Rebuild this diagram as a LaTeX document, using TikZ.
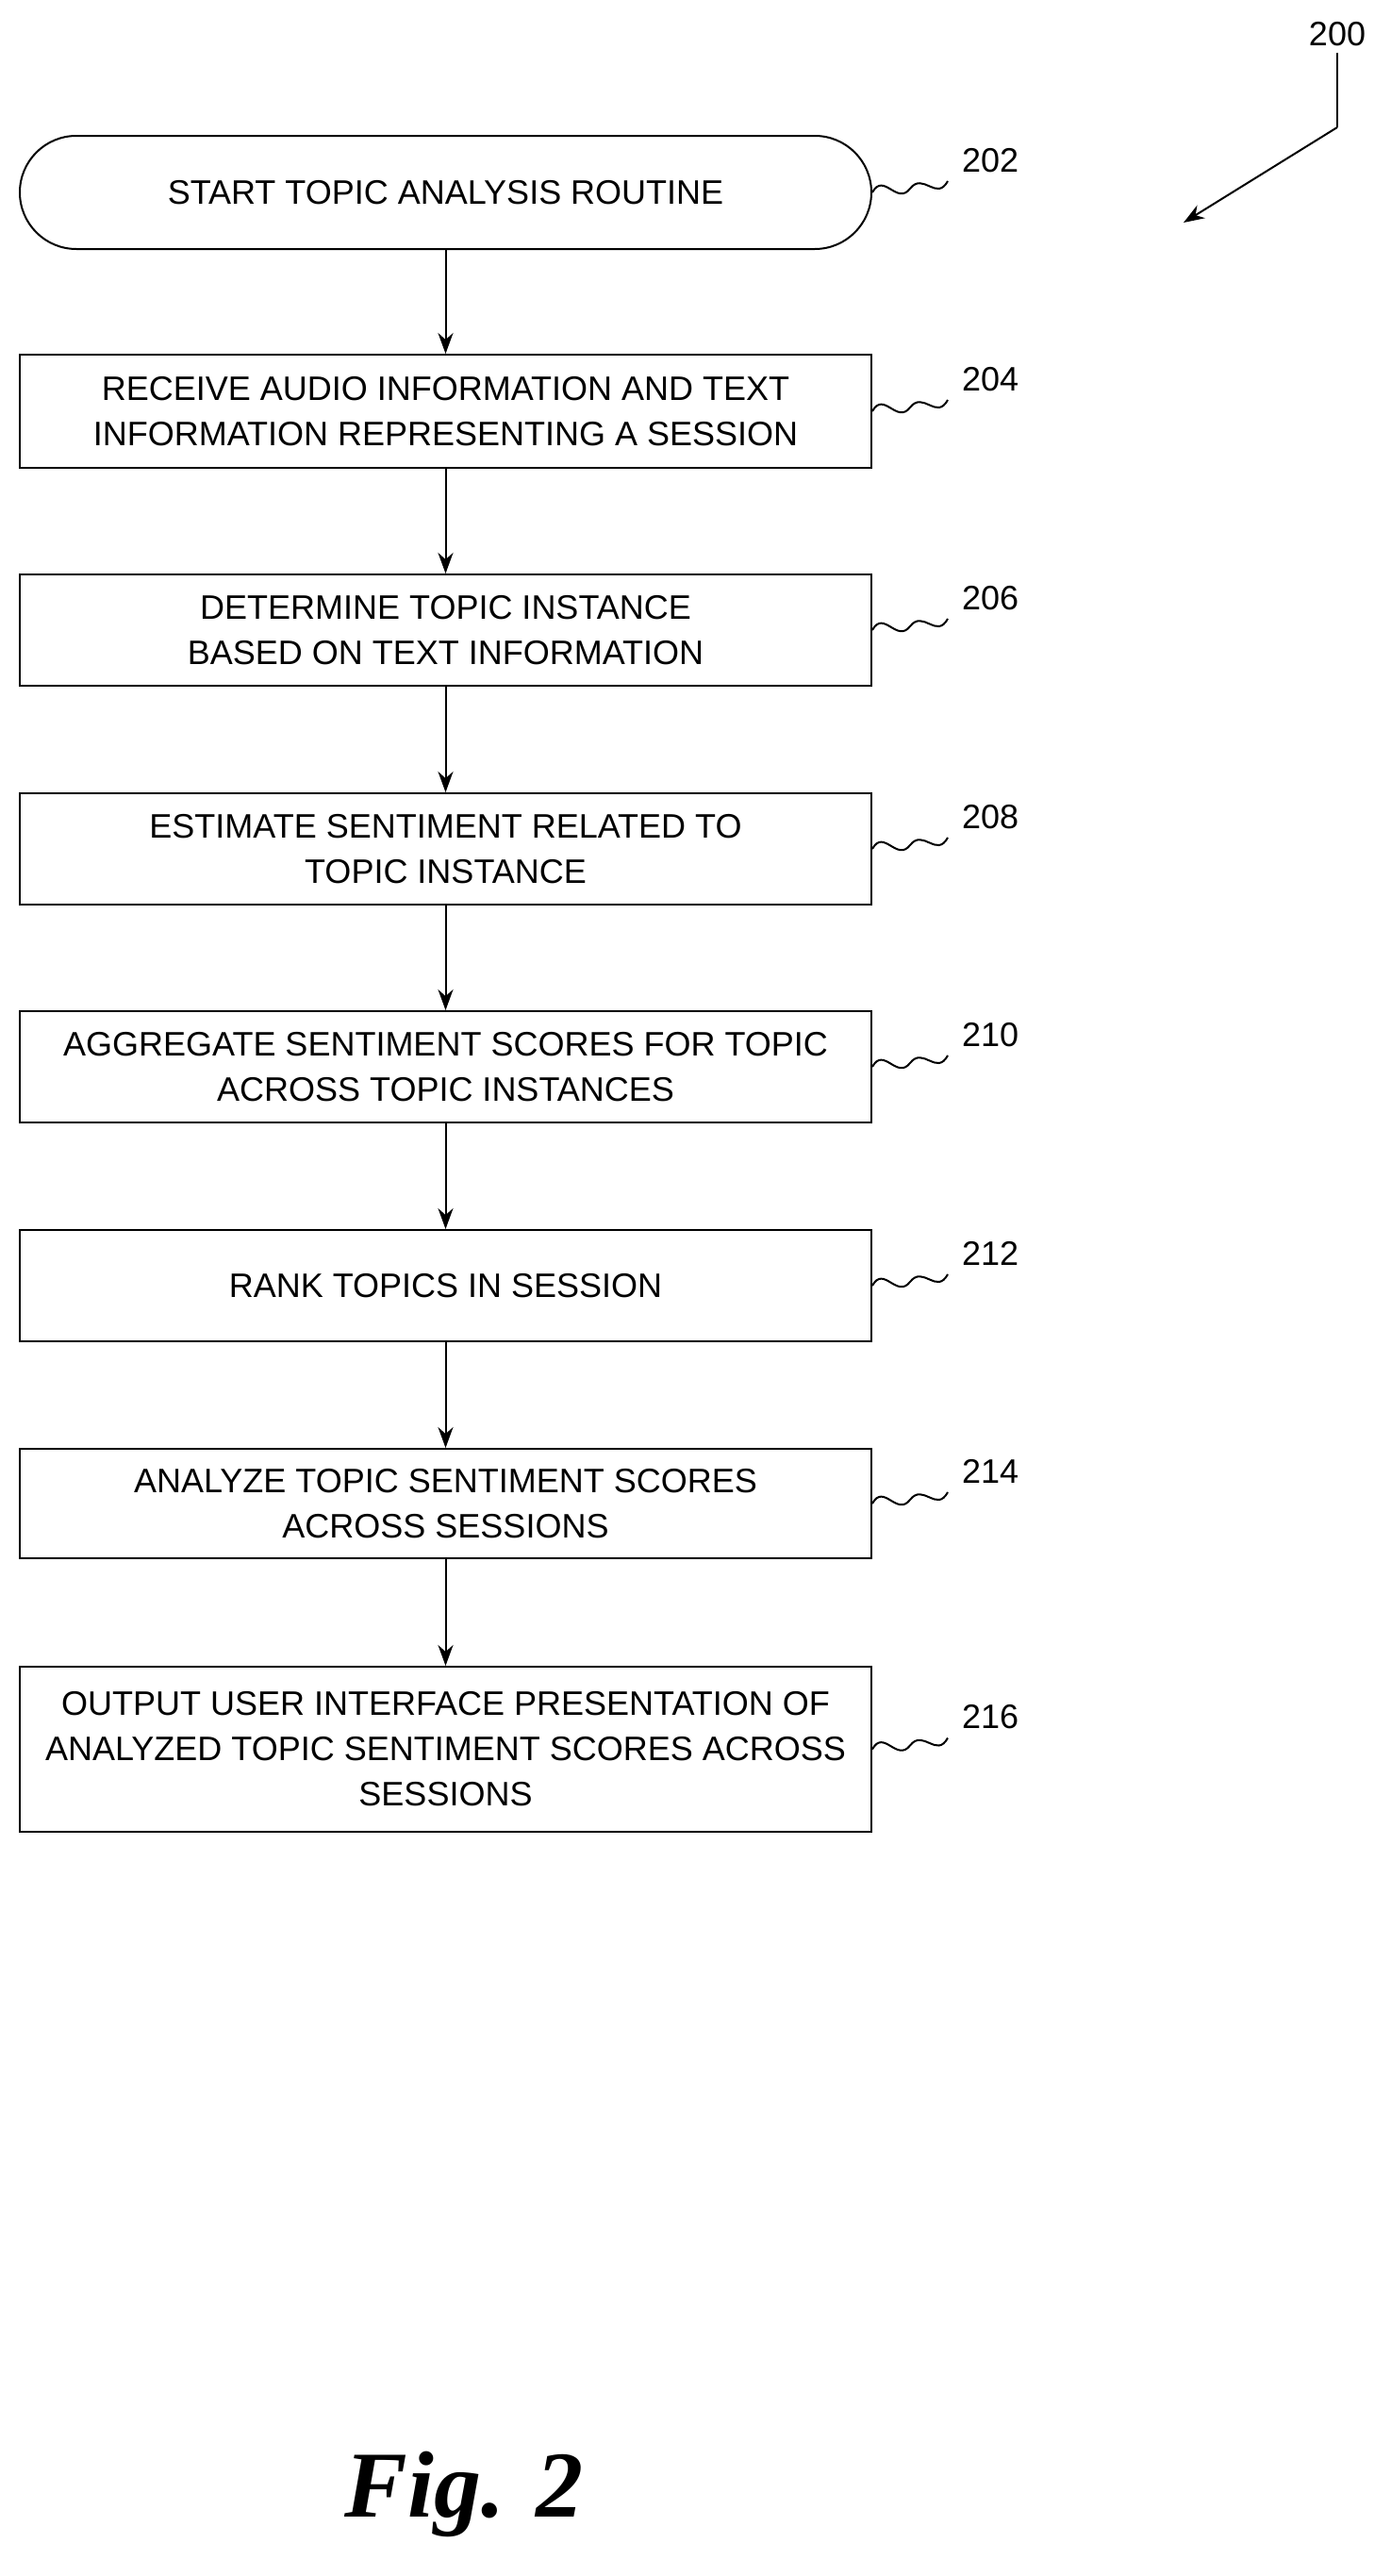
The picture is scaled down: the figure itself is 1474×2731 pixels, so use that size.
\documentclass[tikz,border=0pt]{standalone}
\usepackage{fontspec}
\setmainfont{Liberation Sans}
\newfontfamily\figfont{Liberation Serif}
\usetikzlibrary{arrows.meta}
\begin{document}
\begin{tikzpicture}[x=0.5pt,y=-0.5pt,
  box/.style={draw,line width=1pt,minimum width=451.5pt,align=center,font=\fontsize{18}{24}\selectfont,inner sep=0pt},
  arr/.style={line width=1pt,-{Stealth[length=11pt,width=8pt]}},
  lbl/.style={font=\fontsize{18}{22}\selectfont,anchor=west},
  sq/.style={line width=1pt}]
\useasboundingbox (0,0) rectangle (1474,2731);
\node[box,rounded corners=30pt,minimum height=60pt] (s202) at (472.5,204) {START TOPIC ANALYSIS ROUTINE};
\node[box,minimum height=60pt] (s204) at (472.5,436) {RECEIVE AUDIO INFORMATION AND TEXT\\INFORMATION REPRESENTING A SESSION};
\node[box,minimum height=59pt] (s206) at (472.5,668) {DETERMINE TOPIC INSTANCE\\BASED ON TEXT INFORMATION};
\node[box,minimum height=59pt] (s208) at (472.5,900) {ESTIMATE SENTIMENT RELATED TO\\TOPIC INSTANCE};
\node[box,minimum height=59pt] (s210) at (472.5,1131) {AGGREGATE SENTIMENT SCORES FOR TOPIC\\ACROSS TOPIC INSTANCES};
\node[box,minimum height=59pt] (s212) at (472.5,1363) {RANK TOPICS IN SESSION};
\node[box,minimum height=58pt] (s214) at (472.5,1594) {ANALYZE TOPIC SENTIMENT SCORES\\ACROSS SESSIONS};
\node[box,minimum height=87.5pt] (s216) at (472.5,1854.5) {OUTPUT USER INTERFACE PRESENTATION OF\\ANALYZED TOPIC SENTIMENT SCORES ACROSS\\SESSIONS};
\foreach \a/\b in {s202/s204,s204/s206,s206/s208,s208/s210,s210/s212,s212/s214,s214/s216}
  \draw[arr] (\a.south) -- (\b.north);
\foreach \n in {202,204,206,208,210,212,214,216}{
  \coordinate (q\n) at ([xshift=40pt,yshift=6pt]s\n.east);
  \draw[sq] (s\n.east) .. controls ++(12,-22) and ++(-14,18) .. ([xshift=20pt,yshift=2pt]s\n.east)
     .. controls ++(14,-18) and ++(-12,22) .. (q\n);
  \node[lbl] (l\n) at ([xshift=44pt,yshift=17pt]s\n.east) {\n};
}
\node[font=\fontsize{18}{22}\selectfont] (l200) at (1418,36) {200};
\coordinate (c200) at (1418,135);
\coordinate (t200) at (1255,236);
\draw[line width=1pt] (l200.south) -- (c200);
\draw[arr] (c200) -- (t200);
\node[font=\figfont\bfseries\itshape\fontsize{50}{56}\selectfont] (fig) at (492,2644) {Fig. 2};
\end{tikzpicture}
\end{document}
